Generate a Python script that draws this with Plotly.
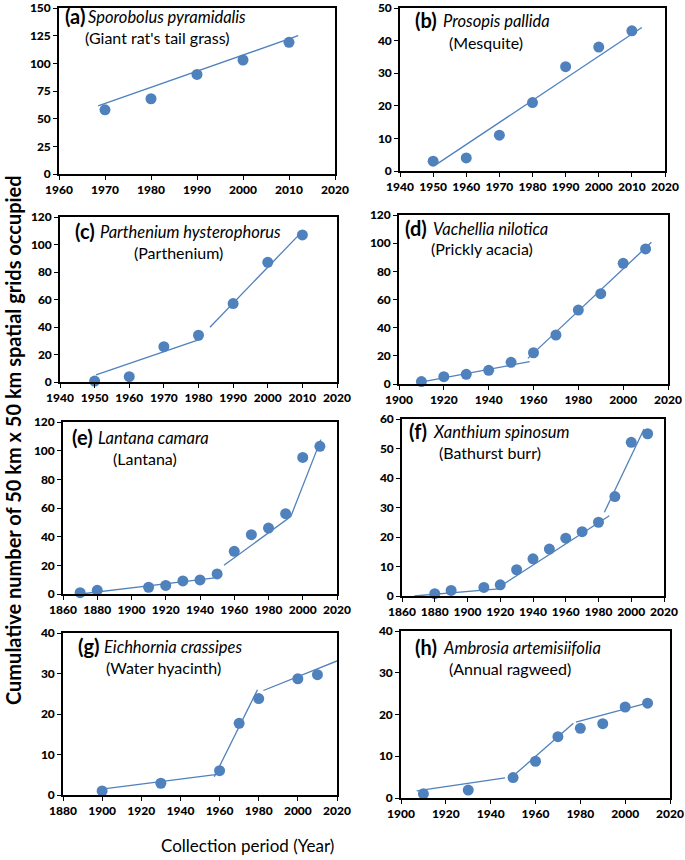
import plotly.graph_objects as go

W, H = 685, 860
BLUE = "rgb(79,129,189)"

# ---- data ----
years_a = [1970, 1980, 1990, 2000, 2010]
vals_a = [58, 68, 90, 103, 119]
trend_a = [[(1968.5, 61.5), (2012, 125)]]

years_b = [1950, 1960, 1970, 1980, 1990, 2000, 2010]
vals_b = [3, 4, 11, 21, 32, 38, 43]
trend_b = [[(1951.1, 2.1), (2013, 44)]]

years_c = [1950, 1960, 1970, 1980, 1990, 2000, 2010]
vals_c = [0.7, 3.9, 25.7, 34, 57, 87, 107]
trend_c = [[(1950.4, 5.1), (1980.6, 31.1)], [(1983.3, 39.8), (2009.5, 108.3)]]

years_d = [1910, 1920, 1930, 1940, 1950, 1960, 1970, 1980, 1990, 2000, 2010]
vals_d = [1.7, 5.2, 6.9, 9.7, 15.4, 22.2, 34.8, 52.5, 64.1, 85.7, 95.9]
trend_d = [[(1909.2, 1.2), (1958.3, 15.9)], [(1957.5, 18.2), (2012.6, 100.6)]]

years_e = [1870, 1880, 1910, 1920, 1930, 1940, 1950, 1960, 1970, 1980, 1990, 2000, 2010]
vals_e = [0.9, 2.6, 4.7, 6, 9.1, 9.8, 14, 29.8, 41.4, 46, 56, 95.3, 103]
trend_e = [[(1870.4, 0), (1948.6, 11.2)], [(1954, 20), (1993, 54), (2010.6, 107.7)]]

years_f = [1880, 1890, 1910, 1920, 1930, 1940, 1950, 1960, 1970, 1980, 1990, 2000, 2010]
vals_f = [0.8, 1.9, 2.9, 3.8, 8.9, 12.6, 15.9, 19.6, 21.8, 25, 33.7, 52.1, 55]
trend_f = [[(1867.5, 0), (1918.9, 2.4)], [(1920, 3.3), (1986.6, 27.2)], [(1983.6, 28.4), (2007.8, 56.6)]]

years_g = [1900, 1930, 1960, 1970, 1980, 2000, 2010]
vals_g = [1, 2.9, 6, 17.7, 23.8, 28.7, 29.7]
trend_g = [[(1900.8, 1.5), (1958.9, 5.1)], [(1957.3, 4.5), (1979.4, 26)], [(1982.4, 25.8), (2020, 33.1)]]

years_h = [1910, 1930, 1950, 1960, 1970, 1980, 1990, 2000, 2010]
vals_h = [1, 1.9, 4.9, 8.8, 14.7, 16.7, 17.8, 21.8, 22.7]
trend_h = [[(1907, 1.7), (1946.4, 4.8)], [(1948.6, 4.6), (1976.9, 17.9)], [(1978, 18.2), (2011, 22.9)]]

letters = ["(a)", "(b)", "(c)", "(d)", "(e)", "(f)", "(g)", "(h)"]
species = ["Sporobolus pyramidalis", "Prosopis pallida", "Parthenium hysterophorus",
           "Vachellia nilotica", "Lantana camara", "Xanthium spinosum",
           "Eichhornia crassipes", "Ambrosia artemisiifolia"]
common = ["(Giant rat's tail grass)", "(Mesquite)", "(Parthenium)", "(Prickly acacia)",
          "(Lantana)", "(Bathurst burr)", "(Water hyacinth)", "(Annual ragweed)"]

x_ranges = [(1960, 2020, 10), (1940, 2020, 10), (1940, 2020, 10), (1900, 2020, 20),
            (1860, 2020, 20), (1860, 2020, 20), (1880, 2020, 20), (1900, 2020, 20)]
y_ranges = [(0, 150, 25), (0, 50, 10), (0, 120, 20), (0, 120, 20),
            (0, 120, 20), (0, 60, 10), (0, 40, 10), (0, 40, 10)]

panels = [(years_a, vals_a, trend_a), (years_b, vals_b, trend_b), (years_c, vals_c, trend_c),
          (years_d, vals_d, trend_d), (years_e, vals_e, trend_e), (years_f, vals_f, trend_f),
          (years_g, vals_g, trend_g), (years_h, vals_h, trend_h)]

# ---- layout geometry (pixels: left, right, top, bottom) ----
boxes = [(59, 335, 8, 174), (400, 665, 8, 171), (60, 337, 217, 382), (399, 668, 215, 384),
         (63, 337, 422, 594), (402, 664, 419, 596), (63, 337, 633, 795), (401, 670, 631, 798)]
# label positions: (letter x, species x, y line1, common x, y line2)
label_pos = [(63, 86, 16, 83, 37), (413, 441, 20, 447, 42), (73, 98, 231, 132, 252),
             (403, 431, 228, 429, 249), (70, 96, 437, 111, 458), (407, 431, 431, 437, 452),
             (76, 102, 646, 104, 667), (413, 441, 647, 447, 668)]

def px(x):
    return x / W

def py(y):
    return 1 - y / H

fig = go.Figure()
layout = dict(width=W, height=H, margin=dict(l=0, r=0, t=0, b=0, pad=0), template="none",
              plot_bgcolor="white", paper_bgcolor="white", showlegend=False,
              font=dict(family="Lato, Liberation Sans, sans-serif", color="black"))
annotations = []
TICKFONT = dict(family="Lato, sans-serif", size=12, color="black", weight=900)

for i, ((xs, ys, trends), (l, r, t, b)) in enumerate(zip(panels, boxes)):
    n = "" if i == 0 else str(i + 1)
    xa, ya = "x" + n, "y" + n
    fig.add_trace(go.Scatter(x=xs, y=ys, mode="markers", xaxis=xa, yaxis=ya,
                             marker=dict(color=BLUE, size=11), cliponaxis=False))
    tx, tyv = [], []
    for seg in trends:
        for (sx, sy) in seg:
            tx.append(sx)
            tyv.append(sy)
        tx.append(None)
        tyv.append(None)
    fig.add_trace(go.Scatter(x=tx, y=tyv, mode="lines", xaxis=xa, yaxis=ya,
                             line=dict(color=BLUE, width=1.3)))
    x0, x1, dx = x_ranges[i]
    y0, y1, dy = y_ranges[i]
    axstyle = dict(showline=True, mirror=True, linecolor="black", linewidth=1.6,
                   ticks="outside", ticklen=4, tickcolor="black", tickwidth=1.3,
                   showgrid=False, zeroline=False, tickfont=TICKFONT, automargin=False,
                   ticklabeloverflow="allow")
    layout["xaxis" + n] = dict(domain=[px(l), px(r)], range=[x0, x1], tick0=x0, dtick=dx,
                               anchor=ya, **axstyle)
    layout["yaxis" + n] = dict(domain=[py(b), py(t)], range=[y0, y1], tick0=y0, dtick=dy,
                               anchor=xa, **axstyle)
    lx, sx, y1p, cx, y2p = label_pos[i]
    annotations.append(dict(x=px(lx), y=py(y1p), xref="paper", yref="paper", text="<b>" + letters[i] + "</b>",
                            showarrow=False, xanchor="left", yanchor="middle",
                            font=dict(size=20, family="Lato, sans-serif", color="black")))
    annotations.append(dict(x=px(sx), y=py(y1p + 1), xref="paper", yref="paper", text="<i>" + species[i] + "</i>",
                            showarrow=False, xanchor="left", yanchor="middle",
                            font=dict(size=16.5, family="Lato, sans-serif", color="black")))
    annotations.append(dict(x=px(cx), y=py(y2p), xref="paper", yref="paper", text=common[i],
                            showarrow=False, xanchor="left", yanchor="middle",
                            font=dict(size=16, family="Lato, sans-serif", color="black")))

annotations.append(dict(x=px(13), y=py(440), xref="paper", yref="paper",
                        text="<b>Cumulative number of 50 km x 50 km spatial grids occupied</b>",
                        showarrow=False, textangle=-90, xanchor="center", yanchor="middle",
                        font=dict(size=20, family="Lato, sans-serif", color="black")))
annotations.append(dict(x=px(247), y=py(845), xref="paper", yref="paper",
                        text="Collection period (Year)", showarrow=False,
                        xanchor="center", yanchor="middle",
                        font=dict(size=17, family="Lato, sans-serif", color="black")))
layout["annotations"] = annotations
fig.update_layout(**layout)
fig.write_html("out.html", config={"displayModeBar": False},
               post_script="document.body.style.margin='0px';document.body.style.overflow='hidden';")
